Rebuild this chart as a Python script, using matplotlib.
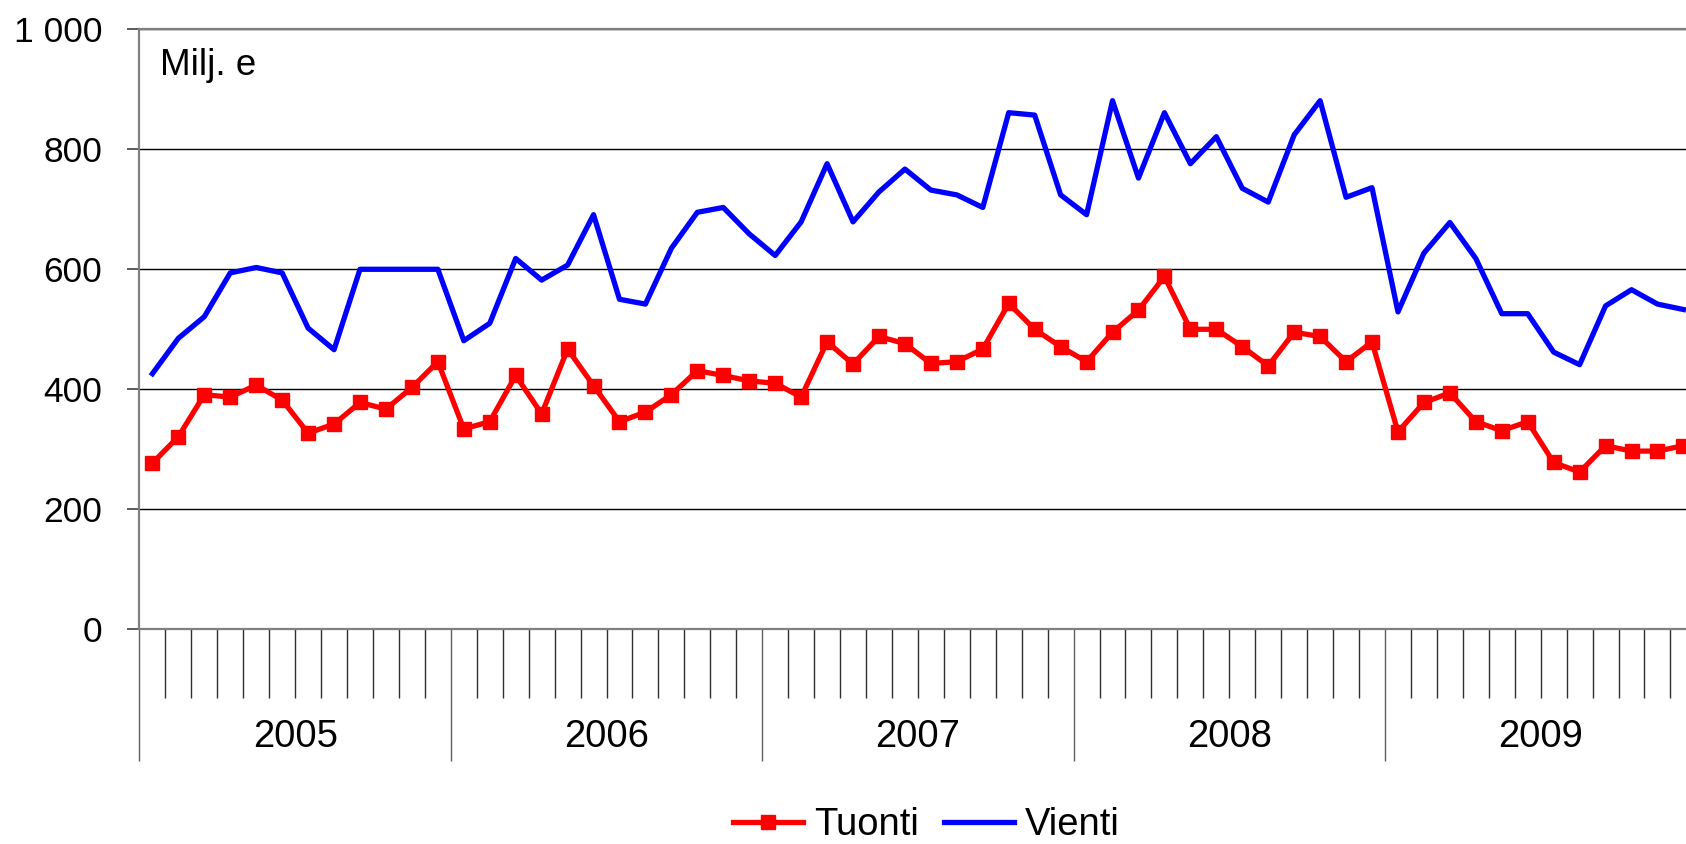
import numpy as np
import matplotlib
matplotlib.use("Agg")
import matplotlib.pyplot as plt

plt.rcParams['font.family'] = ['Liberation Sans', 'DejaVu Sans']

# monthly values, Jan 2005 - Dec 2009 (Milj. e)
years = ['2005', '2006', '2007', '2008', '2009']
tuonti = [277, 321, 391, 387, 407, 382, 327, 342, 378, 367, 403, 446,
          334, 346, 423, 359, 467, 406, 346, 362, 391, 431, 423, 414,
          410, 387, 479, 442, 488, 476, 443, 446, 467, 543, 500, 471,
          446, 495, 532, 588, 500, 500, 471, 439, 495, 488, 446, 479,
          329, 378, 394, 346, 331, 346, 278, 262, 306, 297, 297, 306]
vienti = [426, 485, 521, 594, 603, 594, 502, 466, 600, 600, 600, 600,
          481, 510, 618, 582, 607, 691, 550, 542, 635, 695, 703, 659,
          623, 679, 776, 679, 729, 767, 732, 724, 703, 861, 857, 724,
          691, 881, 752, 861, 776, 821, 735, 712, 824, 881, 720, 736,
          529, 627, 678, 618, 526, 526, 462, 441, 539, 566, 542, 533]
y_ticks = [0, 200, 400, 600, 800, 1000]
y_labels = ['0', '200', '400', '600', '800', '1 000']

fs = 27.5
fig = plt.figure(figsize=(16.86, 8.44), dpi=100)
ax = fig.add_axes([0.0827, 0.2544, 0.9173, 0.7109])

months = np.arange(len(tuonti)) + 0.5
ax.plot(months, tuonti, color='#ff0000', lw=3.8, marker='s', ms=10,
        label='Tuonti', clip_on=False, zorder=3)
ax.plot(months, vienti, color='#0000ff', lw=3.8, label='Vienti',
        clip_on=False, zorder=3)

ax.set_xlim(0, 59.6)
ax.set_ylim(0, 1000)
ax.set_yticks(y_ticks)
ax.set_yticklabels(y_labels)
ax.yaxis.grid(True, color='black', lw=1.0)
ax.set_axisbelow(True)

for s in ['top', 'left', 'bottom']:
    ax.spines[s].set_color('#808080')
    ax.spines[s].set_linewidth(1.6)
ax.spines['right'].set_visible(False)

ax.tick_params(axis='y', length=8.4, width=1.2, color='#404040', pad=18.5,
               labelsize=25.5)

# year boundaries get long ticks, months short ones
ax.set_xticks(np.arange(0, 60, 12))
ax.set_xticklabels([])
ax.set_xticks([m for m in range(1, 60) if m % 12], minor=True)
ax.tick_params(axis='x', which='major', length=95, width=1.0, color='#606060')
ax.tick_params(axis='x', which='minor', length=50, width=1.0, color='#303030')

for k, yr in enumerate(years):
    ax.text(k * 12 + 6, -0.1795, yr, transform=ax.get_xaxis_transform(),
            ha='center', va='center', fontsize=fs)

ax.text(0.79, 923, 'Milj. e', fontsize=26.5, va='baseline', ha='left')

fig.legend(loc='center', bbox_to_anchor=(0.5495, 0.022), ncol=2,
           frameon=False, fontsize=fs, handlelength=1.83, handletextpad=0.3,
           columnspacing=0.65, borderaxespad=0, borderpad=0)

fig.savefig('out.png', dpi=100)
